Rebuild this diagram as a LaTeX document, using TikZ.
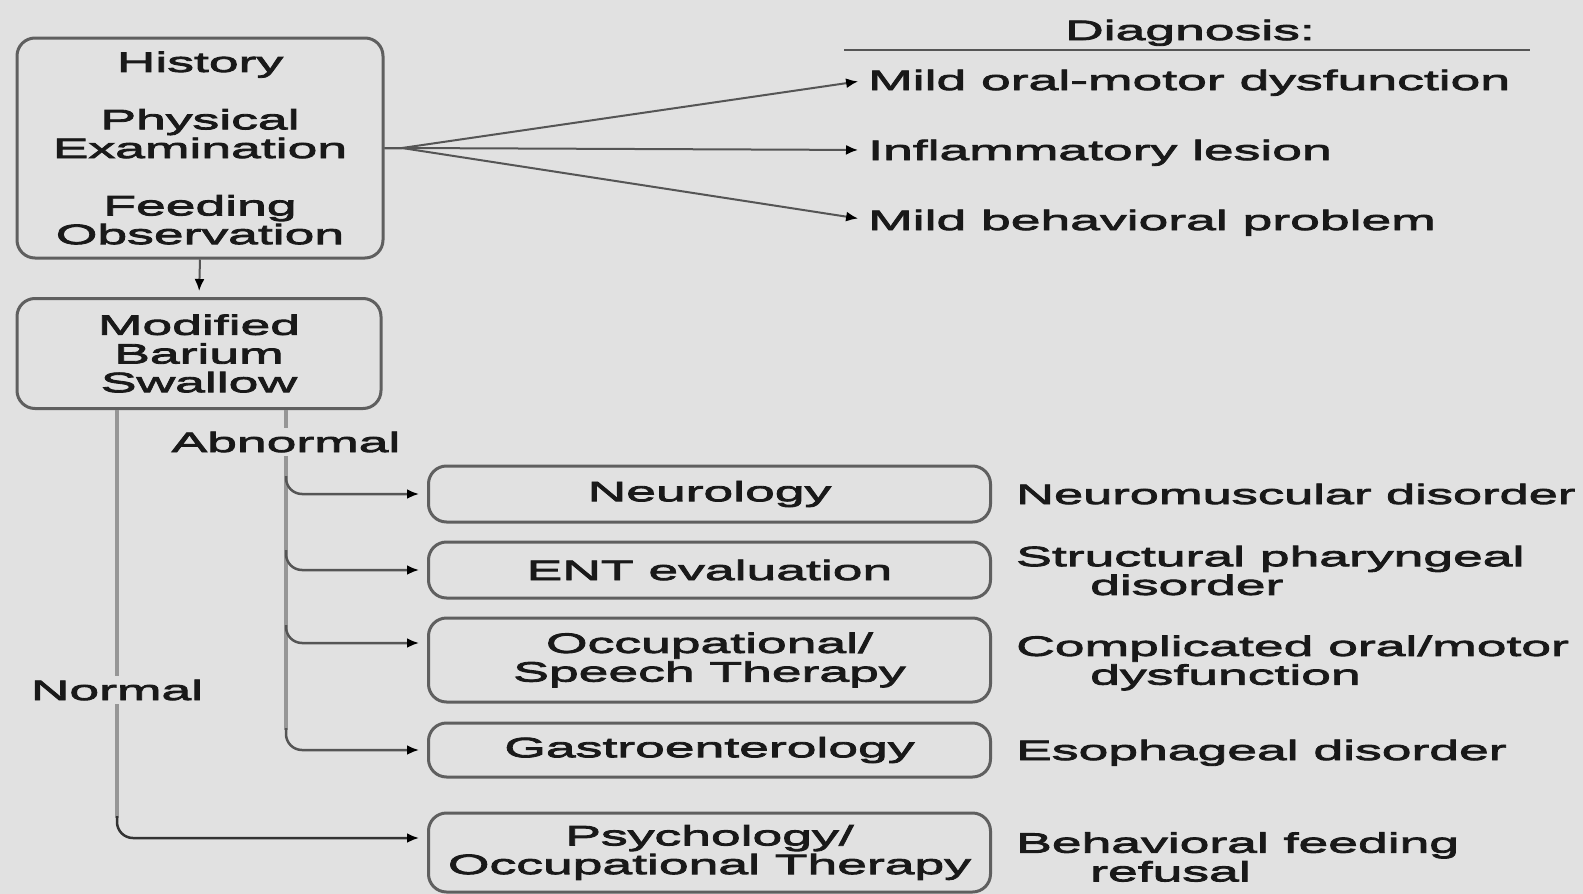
\documentclass[tikz,border=0pt]{standalone}
\usepackage{graphicx}
\usepackage{fontspec}
\setmainfont{Liberation Sans}[FakeStretch=1.91, FakeBold=3]
\usetikzlibrary{arrows.meta}
\definecolor{bg}{RGB}{225,225,225}
\definecolor{ink}{RGB}{25,25,25}
\definecolor{edge}{RGB}{95,95,95}
\definecolor{trunkc}{RGB}{150,150,150}
\definecolor{linec}{RGB}{85,85,85}
\begin{document}
\begin{tikzpicture}[x=1pt, y=-1pt,
  every node/.style={font=\fontsize{28}{28.7}\selectfont, text=ink, inner sep=0pt},
  box/.style={draw=edge, line width=3pt, rounded corners=18pt, align=center},
  lbl/.style={inner sep=4pt, anchor=base},
  diag/.style={anchor=base west},
  diagtwo/.style={anchor=west, align=left},
  tip/.style={-{Latex[length=12pt,width=10pt,color=black]}, shorten >=8pt},
  arr/.style={draw=linec, line width=2pt, tip},
  trunk/.style={draw=trunkc, line width=4pt},
  branch/.style={draw=linec, line width=2.5pt, rounded corners=16pt, tip}]
\useasboundingbox (0,0) rectangle (1583,894);
\fill[bg] (0,0) rectangle (1583,894);

% left column boxes
\node[box, minimum width=366pt, minimum height=220pt] (b1) at (200,148)
  {History\\[28.7pt]Physical\\Examination\\[28.7pt]Feeding\\Observation};
\node[box, minimum width=364pt, minimum height=110pt] (b2) at (199,353.5)
  {Modified\\Barium\\Swallow};
\draw[arr, shorten >=6pt] (b1.south) -- (b2.north);

% diagnosis header and fan
\node[anchor=base] (dh) at (1190,40) {Diagnosis:};
\draw[draw=linec, line width=2pt] (844,50) -- (1530,50);
\node[diag] (d1) at (868,90) {Mild oral-motor dysfunction};
\node[diag] (d2) at (868,160) {Inflammatory lesion};
\node[diag] (d3) at (868,230) {Mild behavioral problem};
\coordinate (fan) at (402,148);
\draw[arr, shorten >=10pt] (b1.east) -- (fan) -- ([yshift=10pt]d1.base west);
\draw[arr, shorten >=10pt] (b1.east) -- (fan) -- ([yshift=10pt]d2.base west);
\draw[arr, shorten >=10pt] (b1.east) -- (fan) -- ([yshift=10pt]d3.base west);

% right column boxes
\node[box, minimum width=562pt, minimum height=56pt] (neuro) at (709.5,494) {Neurology};
\node[box, minimum width=562pt, minimum height=56pt] (ent) at (709.5,570) {ENT evaluation};
\node[box, minimum width=562pt, minimum height=84pt] (ot) at (709.5,660) {Occupational/\\Speech Therapy};
\node[box, minimum width=562pt, minimum height=54pt] (gastro) at (709.5,750) {Gastroenterology};
\node[box, minimum width=562pt, minimum height=79pt] (psych) at (709.5,852.5) {Psychology/\\Occupational Therapy};

% labels
\node[lbl] (abn) at (286,452) {Abnormal};
\node[lbl] (nrm) at (117,700) {Normal};

% abnormal trunk and branches
\draw[trunk] (b2.south -| abn.north) -- (abn.north);
\draw[trunk] (abn.south) -- (286,730);
\coordinate (t1) at (286,476);
\coordinate (t2) at (286,550);
\coordinate (t3) at (286,625);
\coordinate (t4) at (286,728);
\draw[branch] (t1) |- (neuro.west);
\draw[branch] (t2) |- (ent.west);
\draw[branch] (t3) |- ([yshift=17pt]ot.west);
\draw[branch] (t4) |- (gastro.west);

% normal trunk
\draw[trunk] (b2.south -| nrm.north) -- (nrm.north);
\draw[trunk] (nrm.south) -- (117,818);
\coordinate (t5) at (117,816);
\draw[branch, draw=black!80] (t5) |- ([yshift=14.5pt]psych.west);

% diagnoses at right
\node[diag] (r1) at (1016,504) {\scalebox{0.98}[1]{Neuromuscular disorder}};
\node[diagtwo] (r2) at (1016,570.5) {Structural pharyngeal\\\hspace*{74pt}disorder};
\node[diagtwo] (r3) at (1016,663) {Complicated oral/motor\\\hspace*{74pt}dysfunction};
\node[diag] (r4) at (1016,760) {Esophageal disorder};
\node[diagtwo] (r5) at (1016,857) {Behavioral feeding\\\hspace*{74pt}refusal};
\end{tikzpicture}
\end{document}
